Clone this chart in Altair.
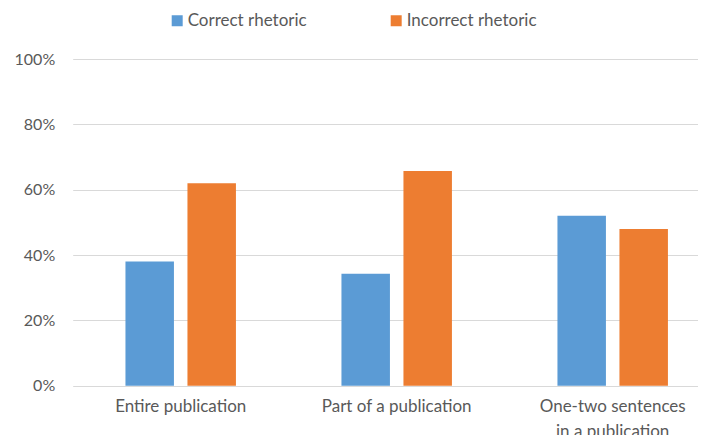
import altair as alt
import pandas as pd

categories = ["Entire publication", "Part of a publication", "One-two sentences in a publication"]
series = ["Correct rhetoric", "Incorrect rhetoric"]
correct = [0.38, 0.343, 0.52]
incorrect = [0.62, 0.657, 0.48]
colors = ["#5B9BD5", "#ED7D31"]
y_ticks = [0, 0.2, 0.4, 0.6, 0.8, 1.0]

rows = []
for c, a, b in zip(categories, correct, incorrect):
    rows.append({"category": c, "series": series[0], "value": a})
    rows.append({"category": c, "series": series[1], "value": b})
df = pd.DataFrame(rows)

FONT = "Lato"
TXT = "#595959"

chart = alt.Chart(df).mark_bar().encode(
    x=alt.X("category:N", sort=categories, title=None,
            scale=alt.Scale(range=[0, 648], paddingInner=0, paddingOuter=0),
            axis=alt.Axis(domain=False, ticks=False, labelAngle=0, labelPadding=13,
                          labelFontSize=17, labelColor=TXT, labelFont=FONT,
                          labelLineHeight=25, labelLimit=300,
                          labelExpr="datum.label == 'One-two sentences in a publication' ? ['One-two sentences', 'in a publication'] : datum.label")),
    xOffset=alt.XOffset("series:N", sort=series,
                        scale=alt.Scale(paddingInner=0.218, paddingOuter=0.851)),
    y=alt.Y("value:Q", title=None,
            scale=alt.Scale(domain=[0, 1]),
            axis=alt.Axis(values=y_ticks, format=".0%", domain=False, ticks=False,
                          labelPadding=18, labelFontSize=16, labelColor=TXT, labelFont=FONT,
                          gridColor="#D9D9D9", gridWidth=1)),
    color=alt.Color("series:N", sort=series,
                    scale=alt.Scale(domain=series, range=colors),
                    legend=alt.Legend(title=None, orient="none", direction="horizontal",
                                      legendX=96, legendY=-47, padding=0,
                                      symbolType="square", symbolSize=121,
                                      symbolStrokeWidth=0, labelOffset=2,
                                      columnPadding=80, labelFontSize=17,
                                      labelColor=TXT, labelFont=FONT)),
).properties(
    width=625, height=326.7,
    padding={"left": 64.7, "top": 51, "right": 0, "bottom": 49.3},
    autosize=alt.AutoSizeParams(type="none"),
).configure_view(stroke=None)

chart.save("out.html", embed_options={"renderer": "svg", "actions": False})
